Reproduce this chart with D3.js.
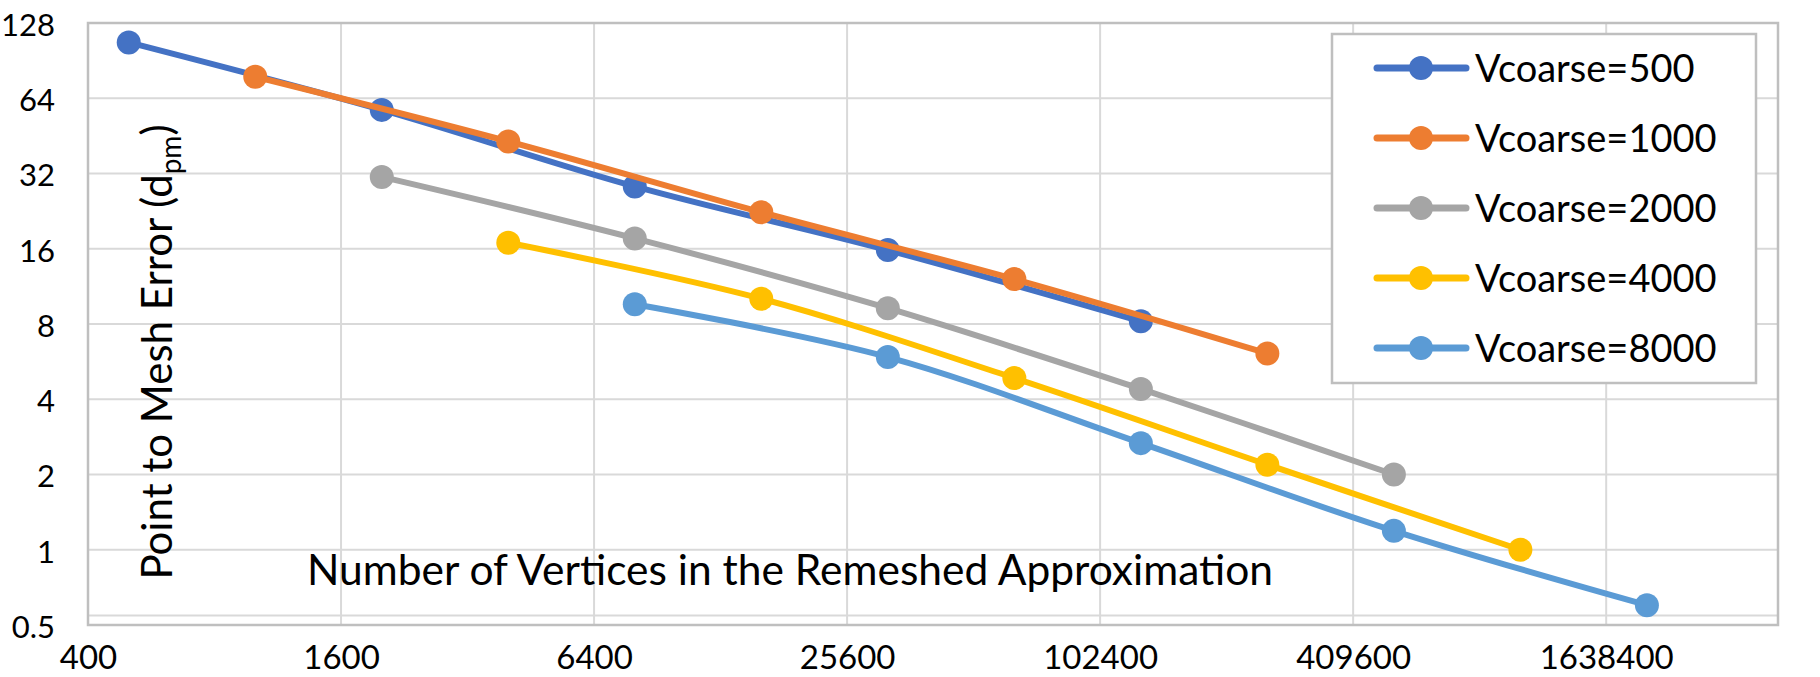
<!DOCTYPE html>
<html>
<head>
<meta charset="utf-8">
<script src="https://cdn.jsdelivr.net/npm/d3@7"></script>
<style>
  body { margin: 0; background: #fff; }
  svg text { font-family: Lato, "Open Sans", sans-serif; fill: #000; }
</style>
</head>
<body>
<div id="container"></div>
<script>
document.addEventListener("DOMContentLoaded", () => {

    // ---- data ----
    const seriesNames = ["Vcoarse=500", "Vcoarse=1000", "Vcoarse=2000", "Vcoarse=4000", "Vcoarse=8000"];
    const seriesColors = ["#4472C4", "#ED7D31", "#A5A5A5", "#FFC000", "#5B9BD5"];

    const v500  = [[500, 107], [2000, 57.5], [8000, 28.4], [32000, 15.8], [128000, 8.2]];
    const v1000 = [[1000, 78], [4000, 43], [16000, 22.4], [64000, 12.1], [256000, 6.1]];
    const v2000 = [[2000, 31], [8000, 17.6], [32000, 9.25], [128000, 4.4], [512000, 2.0]];
    const v4000 = [[4000, 16.9], [16000, 10.1], [64000, 4.86], [256000, 2.19], [1024000, 1.0]];
    const v8000 = [[8000, 9.6], [32000, 5.9], [128000, 2.67], [512000, 1.19], [2048000, 0.6]];
    const allSeries = [v500, v1000, v2000, v4000, v8000];

    const xTicks = [400, 1600, 6400, 25600, 102400, 409600, 1638400];
    const yTicks = [0.5, 1, 2, 4, 8, 16, 32, 64, 128];
    const axisCross = 0.546; // the x axis line sits a bit above 0.5

    const xTitle = "Number of Vertices in the Remeshed Approximation";

    const w = 1820; // canvas width
    const h = 677;  // canvas height
    const left = 88, right = 1778, top = 23, bottom = 625;

    const svg = d3
        .select("#container")
        .append("svg")
        .attr("width", w)
        .attr("height", h)

    const x = d3.scaleLog().base(4)
        .domain([400, 4.2e6])
        .range([left, right])

    const y = d3.scaleLog().base(2)
        .domain([0.5, 128])
        .range([bottom, top])

    // grid
    svg.append("g")
        .selectAll("line")
        .data(xTicks.slice(1))
        .enter().append("line")
        .attr("x1", (d) => x(d)).attr("x2", (d) => x(d))
        .attr("y1", top).attr("y2", bottom)
        .attr("stroke", "#d9d9d9").attr("stroke-width", 2)

    svg.append("g")
        .selectAll("line")
        .data(yTicks.slice(1, -1).concat([axisCross]))
        .enter().append("line")
        .attr("x1", left).attr("x2", right)
        .attr("y1", (d) => y(d)).attr("y2", (d) => y(d))
        .attr("stroke", "#d9d9d9").attr("stroke-width", 2)

    svg.append("rect")
        .attr("x", left).attr("y", top)
        .attr("width", right - left).attr("height", bottom - top)
        .attr("fill", "none")
        .attr("stroke", "#bfbfbf").attr("stroke-width", 2.5)

    // axes (labels only)
    const xAxis = d3.axisBottom(x)
        .tickValues(xTicks)
        .tickFormat((d) => d)
        .tickSize(0)
        .tickPadding(0)

    svg.append("g")
        .attr("transform", `translate(0, ${bottom})`)
        .call(xAxis)
        .call((g) => g.select(".domain").remove())
        .selectAll("text")
        .attr("dy", null)
        .attr("y", 44)
        .style("font-size", "33px")
        .style("font-family", "Lato, sans-serif")
        .attr("fill", "#000")

    const yAxis = d3.axisLeft(y)
        .tickValues(yTicks)
        .tickFormat((d) => d)
        .tickSize(0)
        .tickPadding(0)

    svg.append("g")
        .attr("transform", `translate(55, 0)`)
        .call(yAxis)
        .call((g) => g.select(".domain").remove())
        .selectAll("text")
        .attr("dy", "0.4em")
        .style("font-size", "31px")
        .style("font-family", "Lato, sans-serif")
        .attr("fill", "#000")

    // titles
    svg.append("text")
        .attr("x", 790).attr("y", 585)
        .attr("text-anchor", "middle")
        .style("font-size", "42.5px")
        .text(xTitle)

    const yTitle = svg.append("text")
        .attr("transform", "translate(172, 352) rotate(-90)")
        .attr("text-anchor", "middle")
        .style("font-size", "42px")
    yTitle.append("tspan").text("Point to Mesh Error (d")
    yTitle.append("tspan").text("pm").style("font-size", "28px").attr("dy", 9)
    yTitle.append("tspan").text(")").attr("dy", -9)

    // series
    const line = d3.line()
        .x((d) => x(d[0]))
        .y((d) => y(d[1]))
        .curve(d3.curveCatmullRom.alpha(0.5))

    allSeries.forEach((data, i) => {
        const g = svg.append("g").attr("class", `series series-${i}`)
        g.append("path")
            .attr("d", line(data))
            .attr("fill", "none")
            .attr("stroke", seriesColors[i])
            .attr("stroke-width", 6)
            .attr("stroke-linejoin", "round")
        g.selectAll("circle")
            .data(data)
            .enter().append("circle")
            .attr("cx", (d) => x(d[0]))
            .attr("cy", (d) => y(d[1]))
            .attr("r", 12)
            .attr("fill", seriesColors[i])
    })

    // legend
    const legendX = 1332, legendY = 34, legendW = 424, legendH = 349;
    const legend = svg.append("g").attr("id", "legend")
    legend.append("rect")
        .attr("x", legendX).attr("y", legendY)
        .attr("width", legendW).attr("height", legendH)
        .attr("fill", "#fff")
        .attr("stroke", "#bfbfbf").attr("stroke-width", 2.5)

    const item = legend.selectAll(".item")
        .data(seriesNames)
        .enter().append("g")
        .attr("class", "item")
        .attr("transform", (d, i) => `translate(0, ${legendY + 34 + i * 70})`)

    item.append("line")
        .attr("x1", 1377).attr("x2", 1466)
        .attr("stroke", (d, i) => seriesColors[i])
        .attr("stroke-width", 7)
        .attr("stroke-linecap", "round")
    item.append("circle")
        .attr("cx", 1421).attr("r", 12)
        .attr("fill", (d, i) => seriesColors[i])
    item.append("text")
        .attr("x", 1475).attr("dy", "0.36em")
        .style("font-size", "38px")
        .text((d) => d)
});
</script>
</body>
</html>
